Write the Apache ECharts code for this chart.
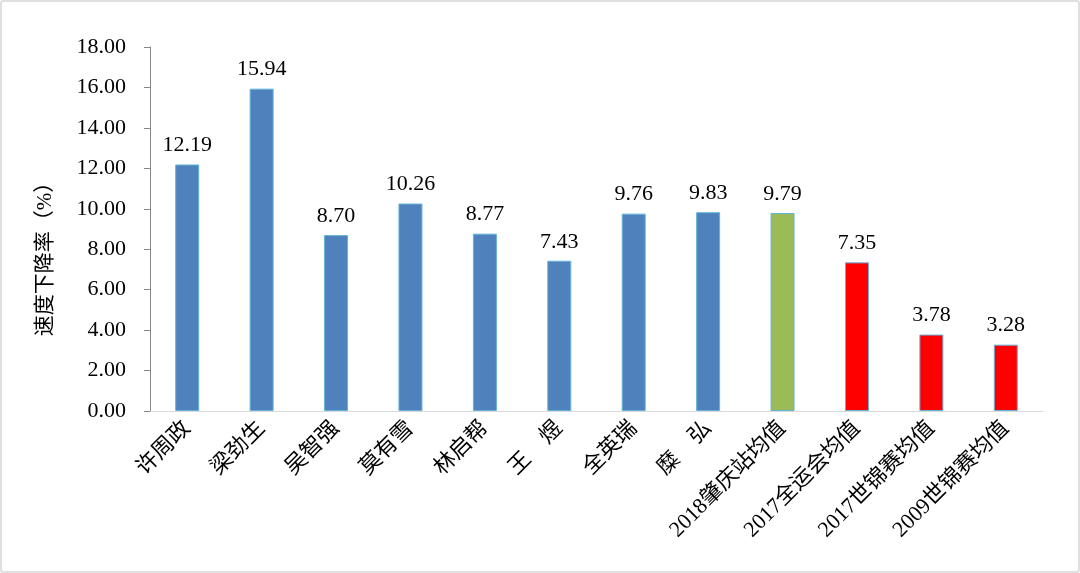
<!DOCTYPE html>
<html><head><meta charset="utf-8">
<script src="https://cdn.jsdelivr.net/npm/echarts@6/dist/echarts.min.js"></script>
<style>
html,body{margin:0;padding:0;background:#fff;}
#frame{position:absolute;left:0;top:0;width:1076px;height:569px;border:2px solid #e0e0e0;border-radius:3px;}
#c{width:1080px;height:573px;position:absolute;left:0;top:0;}
</style></head>
<body><div id="frame"></div><div id="c"></div>
<script>
const categories = ['许周政','梁劲生','吴智强','莫有雪','林启帮','王　煜','全英瑞','糜　弘','2018肇庆站均值','2017全运会均值','2017世锦赛均值','2009世锦赛均值'];
const values = [12.19, 15.94, 8.70, 10.26, 8.77, 7.43, 9.76, 9.83, 9.79, 7.35, 3.78, 3.28];
const barColors = ['#4f81bd','#4f81bd','#4f81bd','#4f81bd','#4f81bd','#4f81bd','#4f81bd','#4f81bd','#9bbb59','#ff0000','#ff0000','#ff0000'];
const yTicks = {min: 0, max: 18, interval: 2};
const yName = '速度下降率（%）';

const serif = '"Liberation Serif","Times New Roman",serif';
const cjk = '"Liberation Serif","Noto Sans CJK SC",serif';
const chart = echarts.init(document.getElementById('c'));
chart.setOption({
  animation: false,
  grid: {left: 150, right: 37, top: 47, bottom: 162, containLabel: false},
  xAxis: {
    type: 'category', data: categories,
    axisLine: {lineStyle: {color: '#d9d9d9', width: 1}},
    axisTick: {show: false},
    axisLabel: {interval: 0, rotate: 45, color: '#000', fontSize: 22, fontFamily: cjk, margin: 14}
  },
  yAxis: {
    type: 'value', min: yTicks.min, max: yTicks.max, interval: yTicks.interval,
    name: yName, nameLocation: 'middle', nameGap: 94, nameRotate: 90,
    nameTextStyle: {fontSize: 21, fontFamily: cjk, color: '#000', padding: [0, 50, 0, 0]},
    axisLine: {show: true, lineStyle: {color: '#868686', width: 1}},
    axisTick: {show: true, length: 6, lineStyle: {color: '#868686'}},
    splitLine: {show: false},
    axisLabel: {formatter: v => v.toFixed(2), color: '#000', fontSize: 22, fontFamily: serif, margin: 24}
  },
  series: [{
    type: 'bar', barWidth: 24,
    data: values.map((v, i) => ({value: v, itemStyle: {color: barColors[i]}})),
    itemStyle: {borderColor: '#63b4d8', borderWidth: 1},
    label: {show: true, position: 'top', distance: 8, formatter: p => p.value.toFixed(2), color: '#000', fontSize: 22, fontFamily: serif}
  }]
});
</script></body></html>
